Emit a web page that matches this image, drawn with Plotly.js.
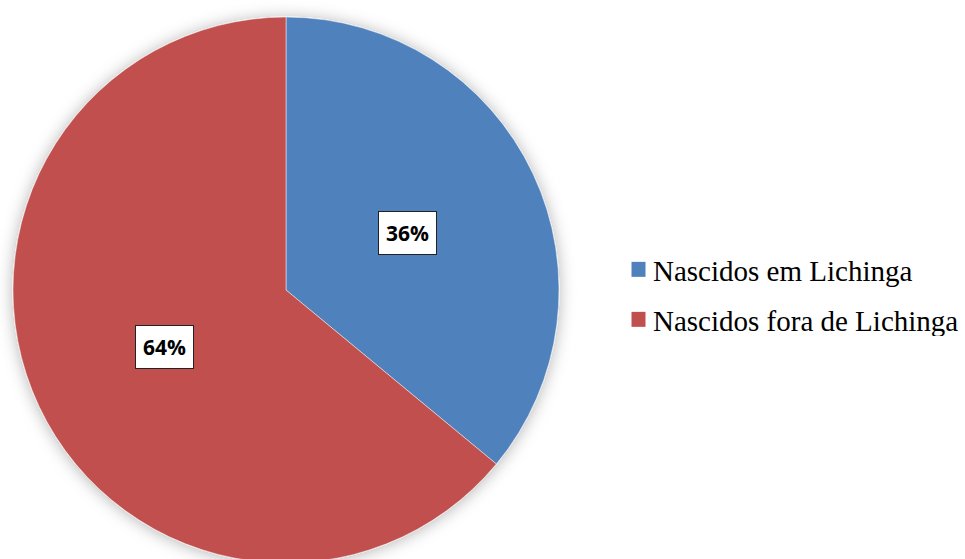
<!DOCTYPE html>
<html>
<head>
<meta charset="utf-8">
<script src="https://cdn.plot.ly/plotly-3.0.1.min.js"></script>
<style>
  html, body { margin: 0; padding: 0; overflow: hidden; background: #fff; }
  #chart { width: 965px; height: 563px; }
</style>
</head>
<body>
<div id="chart"></div>
<script>
const categories = ["Nascidos em Lichinga", "Nascidos fora de Lichinga"];
const values = [36, 64];
const labelsText = ["36%", "64%"];
const colors = ["#4F81BD", "#C0504D"];

const W = 965, H = 563;
const mT = 17, mB = 0;
const domX = [13 / W, 559 / W];

const trace = {
  type: "pie",
  labels: categories,
  values: values,
  sort: false,
  direction: "clockwise",
  rotation: 0,
  textinfo: "none",
  hoverinfo: "none",
  marker: { colors: colors, line: { color: "rgba(255,255,255,0.6)", width: 0.8 } },
  domain: { x: domX, y: [0, 1] }
};

// compute label positions from the slice angles
const total = values.reduce((a, b) => a + b, 0);
const plotH = H - mT - mB;
const radiusPx = Math.min((domX[1] - domX[0]) * W, plotH) / 2;
const cxPaper = (domX[0] + domX[1]) / 2;
const cyPaper = 0.5;
const annotations = [];
let cum = 0;
values.forEach((v, i) => {
  const mid = (cum + v / 2) / total * 2 * Math.PI;
  cum += v;
  const rr = radiusPx * 0.49;
  const dx = rr * Math.sin(mid);
  const dy = rr * Math.cos(mid);
  annotations.push({
    xref: "paper", yref: "paper",
    x: cxPaper + dx / W,
    y: cyPaper + dy / plotH,
    text: "<b>" + labelsText[i] + "</b>",
    showarrow: false,
    font: { family: "Open Sans, Liberation Sans, sans-serif", size: 21, color: "#000" },
    bgcolor: "#ffffff",
    bordercolor: "#222",
    borderwidth: 1,
    borderpad: 7,
    xanchor: "center", yanchor: "middle"
  });
});

const layout = {
  width: W, height: H,
  margin: { l: 0, r: 0, t: mT, b: mB, autoexpand: false },
  paper_bgcolor: "#ffffff",
  showlegend: true,
  legend: {
    x: 613 / W, xanchor: "left",
    y: 0.5, yanchor: "middle",
    font: { family: "Liberation Serif, Times New Roman, serif", size: 29, color: "#000" },
    itemwidth: 30,
    bgcolor: "rgba(0,0,0,0)"
  },
  annotations: annotations
};

Plotly.newPlot("chart", [trace], layout, { displayModeBar: false, staticPlot: true }).then(() => {
  const svgNS = "http://www.w3.org/2000/svg";
  const svg = document.querySelector(".main-svg");
  let defs = svg.querySelector("defs");
  if (!defs) { defs = document.createElementNS(svgNS, "defs"); svg.insertBefore(defs, svg.firstChild); }
  const f = document.createElementNS(svgNS, "filter");
  f.setAttribute("id", "pieShadow");
  f.setAttribute("x", "-20%"); f.setAttribute("y", "-20%");
  f.setAttribute("width", "140%"); f.setAttribute("height", "140%");
  const ds = document.createElementNS(svgNS, "feDropShadow");
  ds.setAttribute("dx", "0"); ds.setAttribute("dy", "1");
  ds.setAttribute("stdDeviation", "8");
  ds.setAttribute("flood-color", "#000");
  ds.setAttribute("flood-opacity", "0.3");
  f.appendChild(ds);
  defs.appendChild(f);
  document.querySelectorAll(".pielayer").forEach(g => g.setAttribute("filter", "url(#pieShadow)"));

  // widen row spacing of legend entries and enlarge symbols to match reference
  const items = document.querySelectorAll(".legend .traces");
  const gap = 50;
  const re = /translate\(([-\d.]+),\s*([-\d.]+)\)/;
  const m0 = re.exec(items[0].getAttribute("transform") || "translate(0,0)");
  const baseY = m0 ? parseFloat(m0[2]) : 0;
  items.forEach((el, i) => {
    const m = re.exec(el.getAttribute("transform") || "translate(0,0)");
    const x = m ? parseFloat(m[1]) : 0;
    el.setAttribute("transform", "translate(" + x + "," + (baseY + i * gap) + ")");
    el.querySelectorAll(".legendpoints path").forEach(p => {
      p.setAttribute("d", "M32.5,7.5H18.5V-7.5H32.5Z");
      p.setAttribute("transform", "");
      p.style.strokeWidth = "0";
    });
  });
});
</script>
</body>
</html>
